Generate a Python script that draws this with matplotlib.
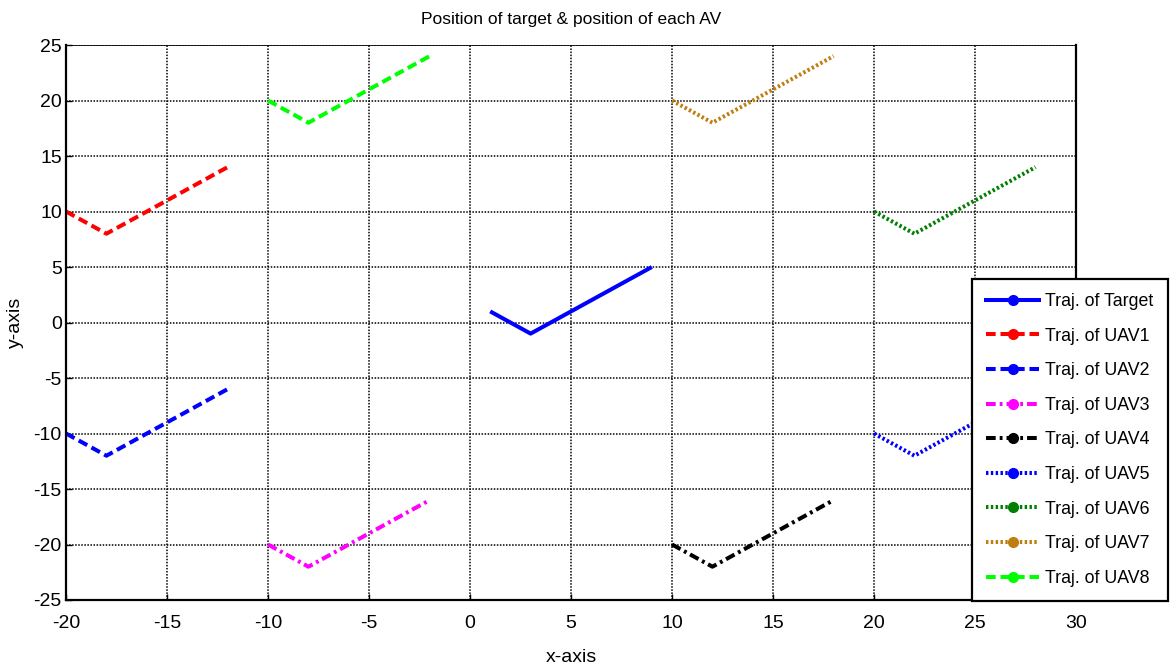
import matplotlib
matplotlib.use("Agg")
import matplotlib.pyplot as plt
from matplotlib.lines import Line2D

plt.rcParams['font.family'] = ['Liberation Sans', 'DejaVu Sans']
plt.rcParams['axes.unicode_minus'] = False

# Data: trajectories (start, turning point, end)
target_x = [1, 3, 9]
target_y = [1, -1, 5]
uav1_x = [-20, -18, -12]
uav1_y = [10, 8, 14]
uav2_x = [-20, -18, -12]
uav2_y = [-10, -12, -6]
uav3_x = [-10, -8, -2]
uav3_y = [-20, -22, -16]
uav4_x = [10, 12, 18]
uav4_y = [-20, -22, -16]
uav5_x = [20, 22, 28]
uav5_y = [-10, -12, -6]
uav6_x = [20, 22, 28]
uav6_y = [10, 8, 14]
uav7_x = [10, 12, 18]
uav7_y = [20, 18, 24]
uav8_x = [-10, -8, -2]
uav8_y = [20, 18, 24]

labels = ["Traj. of Target", "Traj. of UAV1", "Traj. of UAV2", "Traj. of UAV3",
          "Traj. of UAV4", "Traj. of UAV5", "Traj. of UAV6", "Traj. of UAV7",
          "Traj. of UAV8"]
xticks = list(range(-20, 31, 5))
yticks = list(range(-25, 26, 5))

dash = (2.4, 1.2)
dashdot = (2.4, 1.0, 0.7, 1.0)
dot = (0.6, 0.6)
styles = [
    dict(color='#0000ff', ls='-'),
    dict(color='#ff0000', dashes=dash),
    dict(color='#0000ff', dashes=dash),
    dict(color='#ff00ff', dashes=dashdot),
    dict(color='#000000', dashes=dashdot),
    dict(color='#0000ff', dashes=dot),
    dict(color='#007f00', dashes=dot),
    dict(color='#bf7f10', dashes=dot),
    dict(color='#00ff00', dashes=dash),
]
series = [(target_x, target_y), (uav1_x, uav1_y), (uav2_x, uav2_y), (uav3_x, uav3_y),
          (uav4_x, uav4_y), (uav5_x, uav5_y), (uav6_x, uav6_y), (uav7_x, uav7_y),
          (uav8_x, uav8_y)]

fig = plt.figure(figsize=(11.73, 6.68), dpi=100)
ax = fig.add_axes([0.0563, 0.1018, 0.861, 0.8308])

handles = []
for (xs, ys), st, lab in zip(series, styles, labels):
    ax.plot(xs, ys, lw=2.9, solid_capstyle='butt', dash_capstyle='butt', **st)
    handles.append(Line2D([], [], lw=2.9, marker='o', markersize=7,
                          markerfacecolor=st['color'], markeredgecolor=st['color'],
                          **st))

ax.set_xlim(-20, 30)
ax.set_ylim(-25, 25)
ax.set_xticks(xticks)
ax.set_yticks(yticks)
ax.tick_params(labelsize=14, direction='in', length=4, width=1)
ax.tick_params(axis='x', pad=11)
ax.tick_params(axis='y', pad=3)
ax.grid(True, color='black', linestyle=(0, (1, 1)), linewidth=1.1)
for s in ax.spines.values():
    s.set_linewidth(1.6)
ax.spines['top'].set_linewidth(0.6)

ax.set_title("Position of target & position of each AV", fontsize=12.5, pad=15)
ax.set_xlabel("x-axis", fontsize=14, labelpad=12)
ax.set_ylabel("y-axis", fontsize=14, labelpad=7)

leg = fig.legend(handles, labels, loc='lower right', bbox_to_anchor=(0.9957, 0.1003),
                 fontsize=12.8, numpoints=1, handlelength=3.0, frameon=True,
                 fancybox=False, edgecolor='black', framealpha=1,
                 borderpad=0.8, labelspacing=0.99, handletextpad=0.35,
                 borderaxespad=0.0)
leg.get_frame().set_linewidth(1.6)

fig.savefig("out.png", dpi=100)
